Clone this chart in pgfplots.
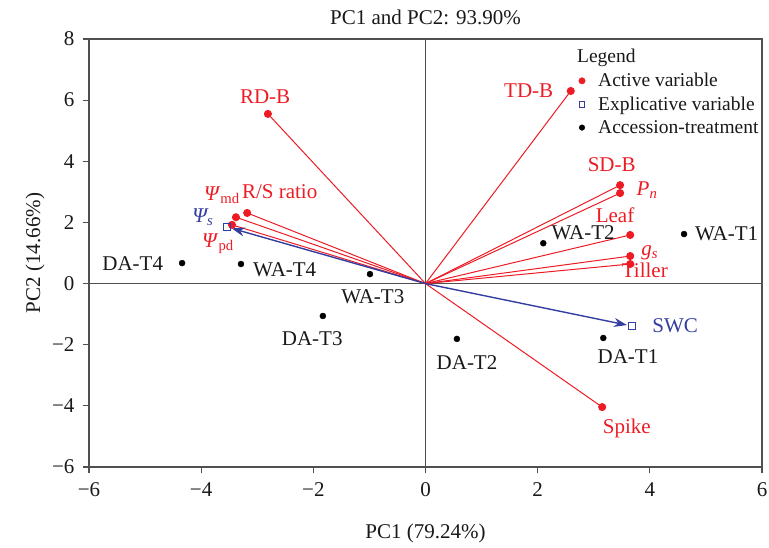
\documentclass[border=0pt]{standalone}
\usepackage{fontspec}
\setmainfont{Liberation Serif}
\usepackage{pgfplots}
\pgfplotsset{compat=1.18}
\usetikzlibrary{arrows.meta}
\definecolor{pcred}{RGB}{237,28,36}
\definecolor{pcblue}{RGB}{52,62,160}
\definecolor{axgray}{RGB}{80,80,80}
\definecolor{txtblack}{RGB}{25,25,25}
\begin{document}
\begin{tikzpicture}[font=\fontsize{21}{25}\selectfont]
\begin{axis}[
  scale only axis, width=673pt, height=428pt,
  xmin=-6, xmax=6, ymin=-6, ymax=8,
  xtick={-6,-4,...,6}, xticklabels={−6,−4,−2,0,2,4,6},
  ytick={-6,-4,...,8}, yticklabels={−6,−4,−2,0,2,4,6,8},
  tick align=outside, tick pos=left,
  major tick length=6pt,
  axis line style={axgray, line width=1.3pt},
  every tick/.style={axgray, line width=1.2pt},
  xticklabel style={yshift=-6pt, text=txtblack},
  yticklabel style={xshift=-5pt, text=txtblack},
  title={PC1 and PC2: 93.90\%},
  xlabel={PC1 (79.24\%)}, ylabel={PC2 (14.66\%)},
  every axis title/.style={at={(axis description cs:0.5,1)}, yshift=22pt, anchor=center, text=txtblack},
  every axis x label/.style={at={(axis description cs:0.5,0)}, yshift=-66pt, anchor=center, text=txtblack},
  every axis y label/.style={at={(axis description cs:0,0.5)}, xshift=-54pt, rotate=90, anchor=center, text=txtblack},
  clip=false,
  legend cell align=left,
  legend image code/.code={\draw[#1] plot coordinates {(0pt,0pt)};},
  legend style={draw=none, fill=none, at={(axis cs:2.73,6.95)}, anchor=north west,
    inner sep=0pt, row sep=4.5pt, font=\fontsize{19.5}{23}\selectfont, text=txtblack,
    /tikz/every odd column/.append style={column sep=11pt}},
  var/.style={pcred, line width=1pt, mark=*, mark size=3.5pt, mark indices={2}, forget plot},
  expl/.style={pcblue, line width=1.4pt, -{Stealth[length=13pt,width=9pt]}, shorten >=5pt, forget plot},
]
% axes through origin
\draw[axgray, line width=1.3pt] (axis cs:0,-6) -- (axis cs:0,8);
\draw[axgray, line width=1.3pt] (axis cs:-6,0) -- (axis cs:6,0);

% active variables
\addplot[var] coordinates {(0,0) (-2.81,5.55)}; % RD-B
\addplot[var] coordinates {(0,0) (2.59,6.30)};  % TD-B
\addplot[var] coordinates {(0,0) (3.47,3.22)};  % SD-B
\addplot[var] coordinates {(0,0) (3.47,2.96)};  % Pn
\addplot[var] coordinates {(0,0) (3.65,1.59)};  % Leaf
\addplot[var] coordinates {(0,0) (3.65,0.90)};  % gs
\addplot[var] coordinates {(0,0) (3.65,0.64)};  % Tiller
\addplot[var] coordinates {(0,0) (3.15,-4.04)}; % Spike
\addplot[var] coordinates {(0,0) (-3.38,2.17)}; % Psi md
\addplot[var] coordinates {(0,0) (-3.18,2.31)}; % R/S ratio
\addplot[var] coordinates {(0,0) (-3.45,1.92)}; % Psi pd

% explicative variables
\addplot[expl] coordinates {(0,0) (3.68,-1.39)}; % SWC
\addplot[expl] coordinates {(0,0) (-3.54,1.85)}; % Psi s
\addplot[only marks, mark=square, mark size=3.2pt, pcblue, line width=1pt, forget plot]
  coordinates {(3.68,-1.39) (-3.54,1.85)};

% accession-treatment
\addplot[only marks, mark=*, mark size=3pt, black, forget plot] coordinates {
  (4.61,1.62) (2.10,1.32) (-4.34,0.67) (-3.29,0.64) (-0.99,0.31)
  (-1.83,-1.06) (0.56,-1.81) (3.17,-1.78)};

% labels
\node[pcred] at (axis cs:-2.86,6.13) {RD-B};
\node[pcred] at (axis cs:1.84,6.30) {TD-B};
\node[pcred] at (axis cs:3.32,3.88) {SD-B};
\node[pcred] at (axis cs:3.95,3.07) {\textit{P\textsubscript{n}}};
\node[pcred] at (axis cs:3.38,2.24) {Leaf};
\node[pcred] at (axis cs:4.0,1.02) {\textit{g\textsubscript{s}}};
\node[pcred] at (axis cs:3.91,0.45) {Tiller};
\node[pcred] at (axis cs:3.59,-4.73) {Spike};
\node[pcblue] at (axis cs:4.45,-1.39) {SWC};
\node[pcblue] at (axis cs:-3.97,2.17) {\textit{Ψ\textsubscript{s}}};
\node[pcred] at (axis cs:-3.63,2.90) {\textit{Ψ}\textsubscript{md}};
\node[pcred] at (axis cs:-2.60,3.00) {R/S ratio};
\node[pcred] at (axis cs:-3.70,1.30) {\textit{Ψ}\textsubscript{pd}};
\node[txtblack] at (axis cs:5.37,1.62) {WA-T1};
\node[txtblack] at (axis cs:2.81,1.66) {WA-T2};
\node[txtblack] at (axis cs:-5.22,0.64) {DA-T4};
\node[txtblack] at (axis cs:-2.51,0.45) {WA-T4};
\node[txtblack] at (axis cs:-0.94,-0.44) {WA-T3};
\node[txtblack] at (axis cs:-2.02,-1.79) {DA-T3};
\node[txtblack] at (axis cs:0.74,-2.60) {DA-T2};
\node[txtblack] at (axis cs:3.61,-2.40) {DA-T1};

% legend
\node[txtblack, anchor=west, inner sep=0pt, font=\fontsize{19.5}{23}\selectfont] at (axis cs:2.70,7.40) {Legend};
\addlegendimage{only marks, mark=*, mark size=3.2pt, pcred}
\addlegendentry{Active variable}
\addlegendimage{only marks, mark=square, mark size=2.8pt, pcblue, line width=0.9pt}
\addlegendentry{Explicative variable}
\addlegendimage{only marks, mark=*, mark size=2.8pt, black}
\addlegendentry{Accession-treatment}
\end{axis}
\pgfresetboundingbox
\path[use as bounding box] (-89pt,-80pt) rectangle (680pt,467pt);
\end{tikzpicture}
\end{document}
